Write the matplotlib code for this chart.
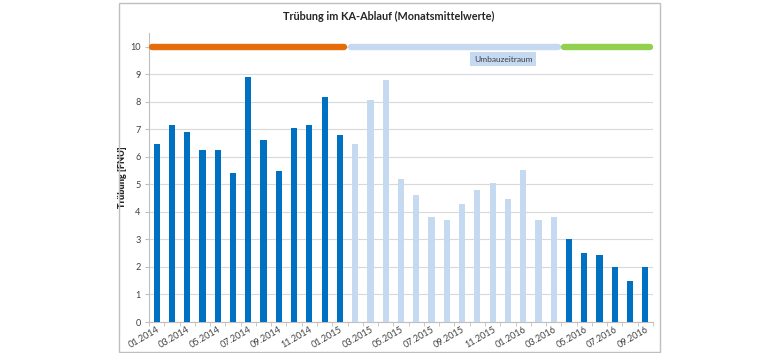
import matplotlib
matplotlib.use("Agg")
import matplotlib.pyplot as plt
import numpy as np

plt.rcParams['font.family'] = ['Lato', 'DejaVu Sans']

months = ["01.2014", "02.2014", "03.2014", "04.2014", "05.2014", "06.2014", "07.2014",
          "08.2014", "09.2014", "10.2014", "11.2014", "12.2014", "01.2015", "02.2015",
          "03.2015", "04.2015", "05.2015", "06.2015", "07.2015", "08.2015", "09.2015",
          "10.2015", "11.2015", "12.2015", "01.2016", "02.2016", "03.2016", "04.2016",
          "05.2016", "06.2016", "07.2016", "08.2016", "09.2016"]
values = [6.48, 7.17, 6.92, 6.25, 6.25, 5.43, 8.9, 6.62, 5.47, 7.05, 7.17, 8.17, 6.8,
          6.45, 8.05, 8.8, 5.2, 4.6, 3.8, 3.7, 4.27, 4.78, 5.05, 4.48, 5.52, 3.72, 3.8,
          3.03, 2.5, 2.45, 2.0, 1.5, 2.0]
# phase per month: 0 = vor Umbau, 1 = Umbauzeitraum, 2 = nach Umbau
phase = [0] * 13 + [1] * 14 + [2] * 6
phase_names = ["vor Umbau", "Umbauzeitraum", "nach Umbau"]
phase_colors = ["#E46C0A", "#C5D9F1", "#92D050"]
bar_colors = ["#0070C0", "#C5D9F1", "#0070C0"]
phase_level = 10

fig = plt.figure(figsize=(7.8, 3.53), dpi=100)
# chart frame
fig.patches.append(plt.Rectangle((119/780, 1-352/353), (660-119)/780, (352-3)/353,
                                 transform=fig.transFigure, fill=False,
                                 edgecolor="#BFBFBF", linewidth=1.0))
ax = fig.add_axes([149/780, 1-322/353, (653-149)/780, (322-33)/353])

x = np.arange(len(months))
ax.bar(x, values, width=0.4, color=[bar_colors[p] for p in phase], zorder=3)

# phase lines at top
inset = 0.2
for p in range(3):
    idx = [i for i, q in enumerate(phase) if q == p]
    ax.plot([idx[0] - 0.5 + inset, idx[-1] + 0.5 - inset], [phase_level, phase_level],
            color=phase_colors[p], linewidth=4.6, solid_capstyle="round", zorder=4)

ax.text(22.7, 9.55, "Umbauzeitraum", fontsize=6, color="#404040", ha="center", va="center",
        bbox=dict(boxstyle="square,pad=0.45", facecolor="#C5D9F1", edgecolor="none"), zorder=5)

ax.set_xlim(-0.5, len(months) - 0.5)
ax.set_ylim(0, 10.5)
ax.set_yticks(range(0, 11))
ax.yaxis.grid(True, color="#D9D9D9", linewidth=0.8, zorder=0)
ax.set_axisbelow(True)

ax.set_xticks(x[::2])
ax.set_xticklabels(months[::2], rotation=30, ha="right", rotation_mode="anchor",
                   fontsize=6.6, color="#404040")
ax.set_xticks(np.arange(-0.5, len(months)), minor=True)
ax.tick_params(axis="x", which="major", length=0, pad=2)
ax.tick_params(axis="x", which="minor", length=3, color="#BFBFBF")
ax.tick_params(axis="y", length=3, color="#BFBFBF", labelsize=6.6, labelcolor="#404040", pad=3)

for s in ["top", "right"]:
    ax.spines[s].set_visible(False)
ax.spines["left"].set_color("#BFBFBF")
ax.spines["bottom"].set_color("#BFBFBF")

ax.set_ylabel("Trübung [FNU]", fontsize=6.6, fontweight="heavy", color="#262626", labelpad=2)
fig.text(389/780, 1-16/353, "Trübung im KA-Ablauf (Monatsmittelwerte)", fontsize=7.8,
         fontweight="bold", color="#262626", ha="center", va="center")

fig.savefig("out.png", dpi=100, facecolor="white")
